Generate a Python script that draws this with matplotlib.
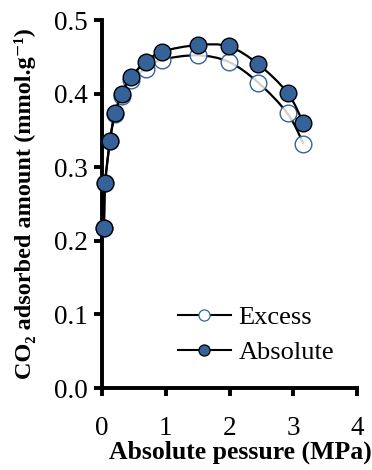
import numpy as np
import matplotlib
matplotlib.use("Agg")
import matplotlib.pyplot as plt
from matplotlib.path import Path
from matplotlib.patches import PathPatch
from matplotlib.lines import Line2D

pressure = [0.03, 0.05, 0.125, 0.20, 0.31, 0.455, 0.69, 0.94, 1.50, 1.99, 2.45, 2.91, 3.16]
absolute = [0.217, 0.278, 0.336, 0.373, 0.399, 0.423, 0.443, 0.457, 0.466, 0.464, 0.440, 0.401, 0.360]
excess = [0.217, 0.278, 0.335, 0.372, 0.397, 0.418, 0.434, 0.446, 0.452, 0.443, 0.415, 0.373, 0.332]

blue = "#356399"
plt.rcParams['font.family'] = ['Liberation Serif', 'DejaVu Serif']

W, H = 372, 470
fig = plt.figure(figsize=(W / 100, H / 100), dpi=100)
ax = fig.add_axes([102 / W, 1 - 388 / H, 255 / W, 368 / H])


def smooth_path(x, y, t=0.5):
    x = np.asarray(x, float); y = np.asarray(y, float)
    verts = [(x[0], y[0])]
    codes = [Path.MOVETO]
    n = len(x)
    for i in range(n - 1):
        p0 = np.array([x[max(i - 1, 0)], y[max(i - 1, 0)]])
        p1 = np.array([x[i], y[i]])
        p2 = np.array([x[i + 1], y[i + 1]])
        p3 = np.array([x[min(i + 2, n - 1)], y[min(i + 2, n - 1)]])
        c1 = p1 + (p2 - p0) * t / 3
        c2 = p2 - (p3 - p1) * t / 3
        verts += [tuple(c1), tuple(c2), tuple(p2)]
        codes += [Path.CURVE4] * 3
    return Path(verts, codes)


ax.add_patch(PathPatch(smooth_path(pressure, excess), fill=False, lw=1.6,
                       edgecolor='black', zorder=2, clip_on=False))
ax.plot(pressure, excess, ls='none', marker='o', ms=12, mfc=(1, 1, 1, 0.82),
        mec=blue, mew=1.0, zorder=3, clip_on=False)
ax.add_patch(PathPatch(smooth_path(pressure, absolute), fill=False, lw=1.6,
                       edgecolor='black', zorder=4, clip_on=False))
ax.plot(pressure, absolute, ls='none', marker='o', ms=12, mfc=blue,
        mec='black', mew=1.0, zorder=5, clip_on=False)

ax.set_xlim(0, 4)
ax.set_ylim(0, 0.5)
ax.set_xticks([0, 1, 2, 3, 4])
ax.set_yticks([0.0, 0.1, 0.2, 0.3, 0.4, 0.5])
ax.set_yticklabels(["0.0", "0.1", "0.2", "0.3", "0.4", "0.5"])
for s in ('top', 'right'):
    ax.spines[s].set_visible(False)
for s in ('left', 'bottom'):
    ax.spines[s].set_linewidth(2.8)
ax.tick_params(direction='out', length=6, width=2.8, labelsize=19.5, pad=4)
ax.tick_params(axis='x', pad=14)

ax.set_xlabel("Absolute pessure (MPa)", fontsize=18.5, fontweight='bold')
ax.xaxis.set_label_coords((240 - 102) / 255, (388 - 452) / 368)
ax.xaxis.label.set_va('center')
ax.set_ylabel("CO\u2082 adsorbed amount (mmol.g\u207b\u00b9)", fontsize=17.5,
              fontweight='bold', labelpad=13)

h1 = Line2D([], [], color='black', lw=1.5, marker='o', ms=8, mfc='white', mec=blue, mew=0.9)
h2 = Line2D([], [], color='black', lw=1.5, marker='o', ms=8, mfc=blue, mec='black', mew=0.9)
ax.legend([h1, h2], ["Excess", "Absolute"], loc='upper left',
          bbox_to_anchor=(178 / W, 1 - 306 / H), bbox_transform=fig.transFigure,
          frameon=False, fontsize=19, handlelength=2.0, handletextpad=0.3,
          labelspacing=0.42, borderpad=0, borderaxespad=0)

fig.savefig("out.png", dpi=100)
